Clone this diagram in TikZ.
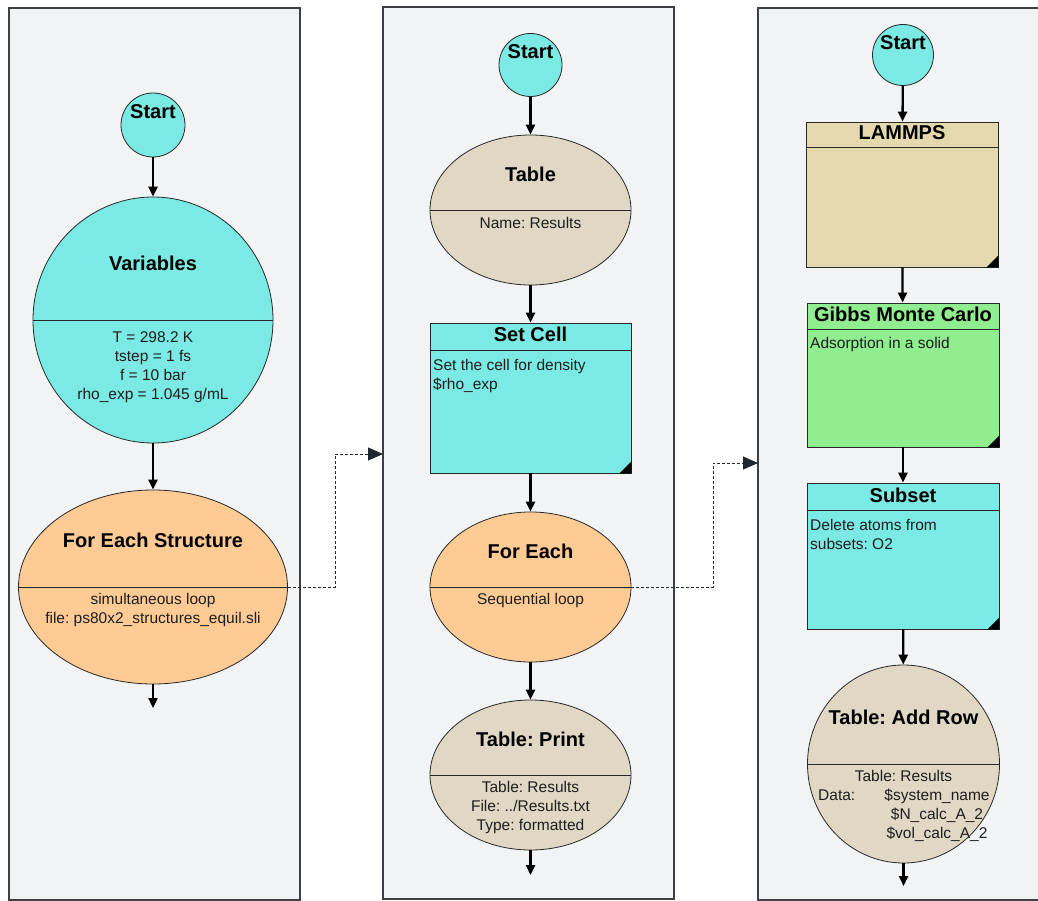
\documentclass[tikz,border=0pt]{standalone}
\usepackage{fontspec}
\setmainfont{Liberation Sans}
\usetikzlibrary{shapes.geometric,arrows.meta}
\definecolor{panelbg}{RGB}{242,243,245}
\definecolor{panelbd}{RGB}{60,64,68}
\definecolor{nodebd}{RGB}{40,40,40}
\definecolor{cyanc}{RGB}{124,234,228}
\definecolor{orangec}{RGB}{255,203,149}
\definecolor{tanc}{RGB}{224,216,197}
\definecolor{lammpsc}{RGB}{228,216,174}
\definecolor{greenc}{RGB}{144,238,144}
\definecolor{txt}{RGB}{30,30,30}
\definecolor{dashc}{RGB}{30,38,46}
\frenchspacing
\begin{document}
\begin{tikzpicture}[x=1pt,y=-1pt,
  panel/.style={draw=panelbd, fill=panelbg, line width=1.2pt},
  startc/.style={circle, draw=nodebd, fill=cyanc, inner sep=0pt, line width=0.8pt},
  ell/.style={ellipse, draw=nodebd, inner sep=0pt, line width=0.8pt},
  boxn/.style={rectangle, draw=nodebd, inner sep=0pt, line width=0.9pt},
  divline/.style={draw=nodebd, line width=0.9pt},
  flow/.style={-{Triangle[length=10pt,width=9pt]}, line width=2.3pt, black},
  dashconn/.style={-{Triangle[length=15pt,width=13pt]}, line width=0.9pt, dashc, dash pattern=on 3pt off 2pt},
  ttl/.style={font=\bfseries\fontsize{20}{22}\selectfont, text=black, inner sep=0pt},
  bdy/.style={font=\fontsize{15.5}{19}\selectfont, text=txt, align=center, inner sep=0pt},
  bdyl/.style={font=\fontsize{15.5}{19}\selectfont, text=txt, align=left, inner sep=0pt, anchor=west},
  corner/.style={fill=black}
]
\useasboundingbox (0,0) rectangle (1038,901);
\clip (0,0) rectangle (1038,901);

% panels
\draw[panel] (9,8) rectangle (300,900);
\draw[panel] (383,7) rectangle (674,899);
\draw[panel] (758,8) rectangle (1060,900);

% ---------- Panel 1 ----------
\node[startc, minimum size=64pt] (s1) at (153,125) {};
\node[ttl] at (153,112) {Start};
\node[ell, fill=cyanc, minimum width=240pt, minimum height=246pt] (v1) at (153,320) {};
\draw[divline] (v1.west) -- (v1.east);
\node[ttl] at (153,263) {Variables};
\node[bdy] at (153,367) {T = 298.2 K\\tstep = 1 fs\\f = 10 bar\\rho\_exp = 1.045 g/mL};
\node[ell, fill=orangec, minimum width=269pt, minimum height=194pt] (f1) at (153,587) {};
\draw[divline] (f1.west) -- (f1.east);
\node[ttl] at (153,540) {For Each Structure};
\node[bdy] at (153,609.5) {simultaneous loop\\file: ps80x2\_structures\_equil.sli};
\coordinate (e1) at (153,708);
\draw[flow] (s1) -- (v1);
\draw[flow] (v1) -- (f1);
\draw[flow] (f1) -- (e1);

% ---------- Panel 2 ----------
\node[startc, minimum size=63pt] (s2) at (530.5,65) {};
\node[ttl] at (530.5,52) {Start};
\node[ell, fill=tanc, minimum width=201pt, minimum height=150pt] (t2) at (530.5,210) {};
\draw[divline] (t2.west) -- (t2.east);
\node[ttl] at (530.5,174) {Table};
\node[bdy] at (530.5,223) {Name: Results};
\node[boxn, fill=cyanc, minimum width=201pt, minimum height=150pt] (sc) at (530.5,398) {};
\draw[divline] ([yshift=-28pt]sc.north west) -- ([yshift=-28pt]sc.north east);
\fill[corner] ([xshift=-12pt]sc.south east) -- (sc.south east) -- ([yshift=12pt]sc.south east) -- cycle;
\node[ttl] at (530.5,334) {Set Cell};
\node[bdyl] at (433,375.5) {Set the cell for density\\\$rho\_exp};
\node[ell, fill=orangec, minimum width=201pt, minimum height=150pt] (fe2) at (530.5,587) {};
\draw[divline] (fe2.west) -- (fe2.east);
\node[ttl] at (530.5,551) {For Each};
\node[bdy] at (530.5,600) {Sequential loop};
\node[ell, fill=tanc, minimum width=201pt, minimum height=150pt] (tp2) at (530.5,775) {};
\draw[divline] (tp2.west) -- (tp2.east);
\node[ttl] at (530.5,739) {Table: Print};
\node[bdy] at (530.5,807) {Table: Results\\File: ../Results.txt\\Type: formatted};
\coordinate (e2) at (530.5,875);
\draw[flow] (s2) -- (t2);
\draw[flow] (t2) -- (sc);
\draw[flow] (sc) -- (fe2);
\draw[flow] (fe2) -- (tp2);
\draw[flow] (tp2) -- (e2);

% ---------- Panel 3 ----------
\node[startc, minimum size=61pt] (s3) at (903,55) {};
\node[ttl] at (903,43) {Start};
\node[boxn, fill=lammpsc, minimum width=192pt, minimum height=145pt] (lm) at (902,194.5) {};
\draw[divline] ([yshift=-26pt]lm.north west) -- ([yshift=-26pt]lm.north east);
\fill[corner] ([xshift=-12pt]lm.south east) -- (lm.south east) -- ([yshift=12pt]lm.south east) -- cycle;
\node[ttl] at (902,133) {LAMMPS};
\node[boxn, fill=greenc, minimum width=192pt, minimum height=144pt] (gm) at (903,375) {};
\draw[divline] ([yshift=-27pt]gm.north west) -- ([yshift=-27pt]gm.north east);
\fill[corner] ([xshift=-12pt]gm.south east) -- (gm.south east) -- ([yshift=12pt]gm.south east) -- cycle;
\node[ttl] at (903,314) {Gibbs Monte Carlo};
\node[bdyl] at (810,344) {Adsorption in a solid};
\node[boxn, fill=cyanc, minimum width=192pt, minimum height=146pt] (sb) at (903,556) {};
\draw[divline] ([yshift=-28pt]sb.north west) -- ([yshift=-28pt]sb.north east);
\fill[corner] ([xshift=-12pt]sb.south east) -- (sb.south east) -- ([yshift=12pt]sb.south east) -- cycle;
\node[ttl] at (903,495) {Subset};
\node[bdyl] at (810,534.5) {Delete atoms from\\subsets: O2};
\node[ell, fill=tanc, minimum width=192pt, minimum height=198pt] (ar) at (903.5,764) {};
\draw[divline] (ar.west) -- (ar.east);
\node[ttl] at (903.5,717) {Table: Add Row};
\node[bdy] at (903.5,776) {Table: Results};
\node[bdyl] at (818,795) {Data:};
\node[bdy] at (937,815.5) {\$system\_name\\\$N\_calc\_A\_2\\\$vol\_calc\_A\_2};
\coordinate (e3) at (903.5,886);
\draw[flow] (s3) -- (lm);
\draw[flow] (lm) -- (gm);
\draw[flow] (gm) -- (sb);
\draw[flow] (sb) -- (ar);
\draw[flow] (ar) -- (e3);

% ---------- dashed connectors ----------
\coordinate (in2) at (383,454);
\coordinate (in3) at (758,463);
\draw[dashconn] (f1.east) -- (335,587) |- (in2);
\draw[dashconn] (fe2.east) -- (713,587) |- (in3);
\end{tikzpicture}
\end{document}
